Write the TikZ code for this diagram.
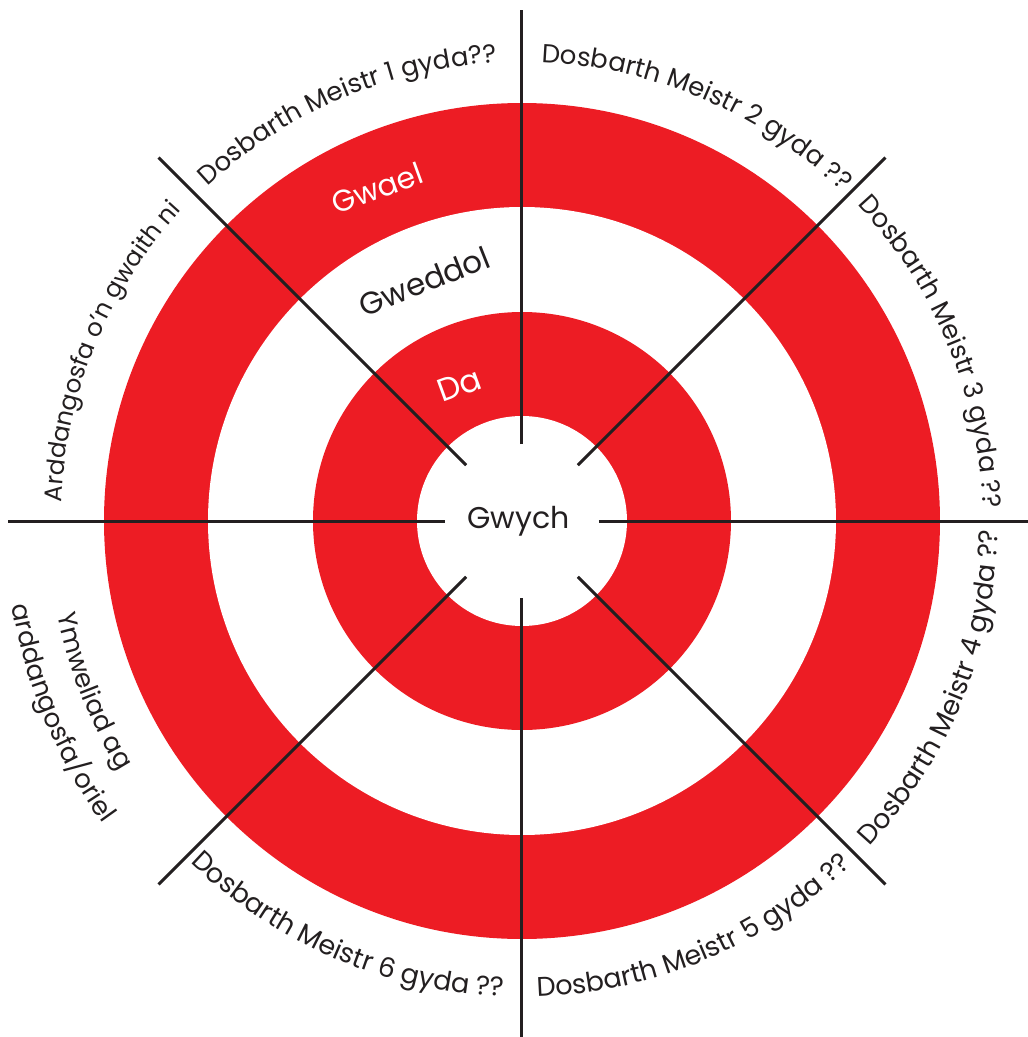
\documentclass[tikz,border=0pt]{standalone}
\usepackage{fontspec}
\setmainfont{Poppins}
\usetikzlibrary{decorations.text}
\definecolor{tred}{HTML}{ED1C24}
\definecolor{tink}{HTML}{231F20}
\newcommand{\secfont}{\fontsize{26}{30}\selectfont}
\newcommand{\lowfont}{\fontsize{27}{32}\selectfont}
\newcommand{\leftfont}{\fontsize{24.5}{29}\selectfont}
\begin{document}
\begin{tikzpicture}[x=1pt,y=1pt,
  spoke/.style={draw=tink,line width=3pt},
  ringlabel/.style={inner sep=0pt},
  arctext/.style={decorate,decoration={text along path,text align=center,
     text={|\secfont\color{tink}|#1}}},
  lefttext/.style={decorate,decoration={text along path,text align=center,
     text={|\leftfont\color{tink}|#1}}},
  lowtext/.style={decorate,decoration={text along path,text align=center,
     text={|\lowfont\color{tink}|#1}}}]
\useasboundingbox (-522,-516) rectangle (506,521);
\fill[white] (-522,-516) rectangle (506,521);
% target rings
\fill[tred]  (0,0) circle[radius=418];
\fill[white] (0,0) circle[radius=314];
\fill[tred]  (0,0) circle[radius=209];
\fill[white] (0,0) circle[radius=105];
% spokes
\coordinate (c) at (0,0);
\draw[spoke] (90:77) -- (90:511);
\draw[spoke] (-90:77) -- (-90:516);
\draw[spoke] (180:77) -- (180:514);
\draw[spoke] (0:77) -- (0:506);
\foreach \a in {45,135,225,315}{\draw[spoke] (\a:79) -- (\a:514);}
% ring labels
\node[ringlabel,text=white,rotate=20,font=\fontsize{30}{34}\selectfont] (gwael) at (113.5:363) {Gwael};
\node[ringlabel,text=tink,rotate=21.6,font=\fontsize{31}{36}\selectfont] (gweddol) at (112.2:259) {Gweddol};
\node[ringlabel,text=white,rotate=20,font=\fontsize{32}{36}\selectfont] (da) at (114.8:150) {Da};
\node[ringlabel,text=tink,anchor=base,font=\fontsize{30}{34}\selectfont] (gwych) at (-3.5,-7) {Gwych};
% sector labels, upper half (clockwise, letters facing out)
\path[arctext={Dosbarth Meistr 1 gyda??}] (153.2:459) arc[start angle=153.2,end angle=73.2,radius=459];
\path[arctext={Dosbarth Meistr 2 gyda ??}] (106.7:459) arc[start angle=106.7,end angle=26.7,radius=459];
\path[arctext={Dosbarth Meistr 3 gyda ??}] (62.5:461) arc[start angle=62.5,end angle=-17.5,radius=461];
\path[lefttext={Arddangosfa o'n gwaith ni}] (197.6:461) arc[start angle=197.6,end angle=117.6,radius=461];
% sector labels, lower half (counter-clockwise, letters facing in)
\path[lowtext={Dosbarth Meistr 4 gyda ??}] (-62.1:476) arc[start angle=-62.1,end angle=17.9,radius=476];
\path[lowtext={Dosbarth Meistr 5 gyda ??}] (-107.2:476) arc[start angle=-107.2,end angle=-27.2,radius=476];
\path[lowtext={Dosbarth Meistr 6 gyda ??}] (-153.2:476) arc[start angle=-153.2,end angle=-73.2,radius=476];
\path[arctext={Ymweliad ag}] (161.6:474) arc[start angle=161.6,end angle=241.6,radius=474];
\path[arctext={arddangosfa/oriel}] (162.6:517) arc[start angle=162.6,end angle=242.6,radius=517];
\end{tikzpicture}
\end{document}
